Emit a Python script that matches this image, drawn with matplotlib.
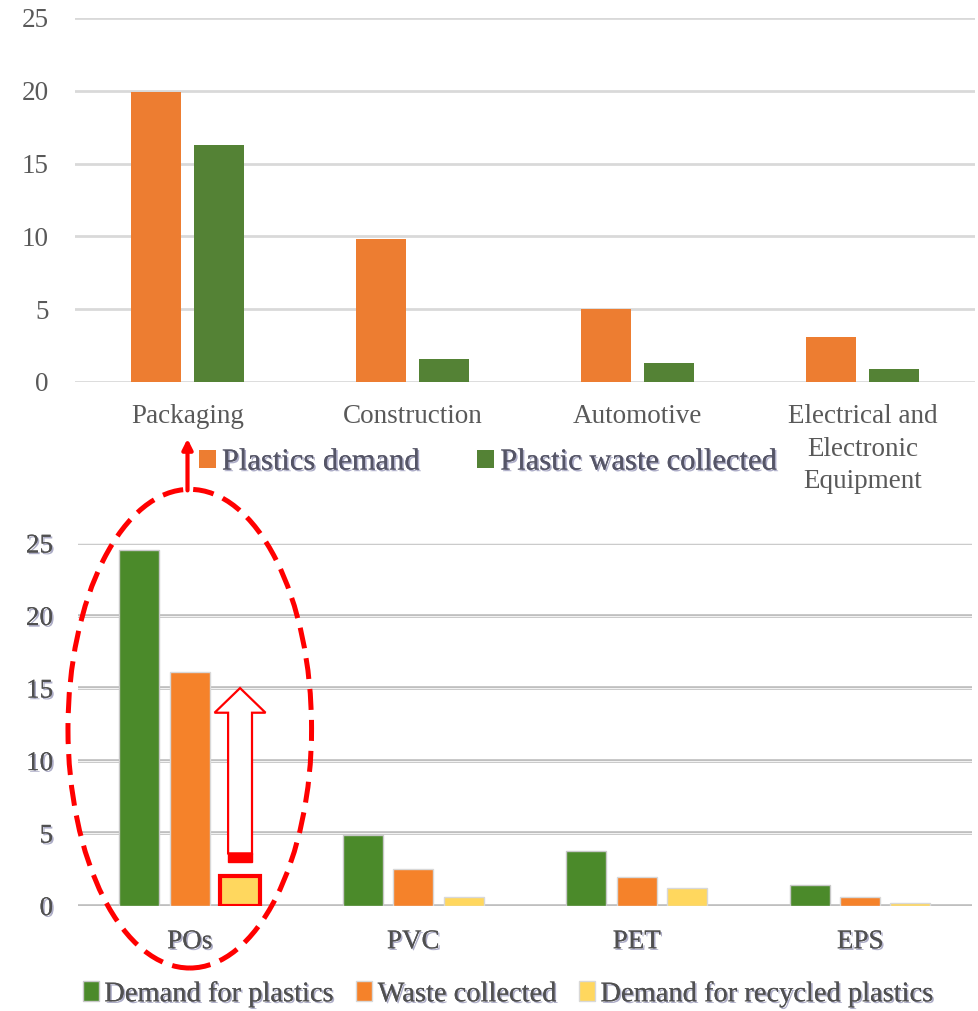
import numpy as np
import matplotlib
matplotlib.use("Agg")
import matplotlib.pyplot as plt
import matplotlib.patches as mpatches
import matplotlib.patheffects as pe

# top chart: demand vs waste collected by sector
sectors = ["Packaging", "Construction", "Automotive", "Electrical and\nElectronic\nEquipment"]
plastics_demand = [19.9, 9.8, 5.0, 3.1]
waste_collected_sector = [16.3, 1.6, 1.3, 0.9]

# bottom chart: by polymer
polymers = ["POs", "PVC", "PET", "EPS"]
demand_for_plastics = [24.5, 4.9, 3.75, 1.4]
waste_collected = [16.1, 2.5, 1.95, 0.6]
demand_recycled = [2.05, 0.6, 1.2, 0.15]

y_ticks = [0, 5, 10, 15, 20, 25]

ORANGE = "#ED7D31"
GREEN = "#548235"
ORANGE2 = "#F5822A"
GREEN2 = "#4B8A2A"
YELLOW = "#FFD75E"
TXT = "#595959"
FONT = "Liberation Serif"

fig = plt.figure(figsize=(9.79, 10.11), dpi=100)

shadow = [pe.withSimplePatchShadow(offset=(1.2, -1.2), shadow_rgbFace="#8a8ab0", alpha=0.7), pe.Normal()]

# ---------- top chart ----------
ax1 = fig.add_axes([0.0766, 0.6222, 0.9194, 0.36])
x1 = np.arange(len(sectors))
w1 = 0.222
ax1.bar(x1 - 0.14, plastics_demand, w1, color=ORANGE, zorder=3, label="Plastics demand")
ax1.bar(x1 + 0.14, waste_collected_sector, w1, color=GREEN, zorder=3, label="Plastic waste collected")
ax1.set_xlim(-0.5, len(sectors) - 0.5)
ax1.set_ylim(0, 25)
ax1.set_yticks(y_ticks)
ax1.set_yticklabels([str(v) for v in y_ticks])
ax1.set_xticks(x1)
ax1.set_xticklabels(sectors, linespacing=1.4, va="top")
ax1.tick_params(axis="both", length=0, labelsize=19.5, labelcolor=TXT)
ax1.tick_params(axis="y", pad=19)
ax1.tick_params(axis="x", pad=16)
for t in ax1.get_xticklabels() + ax1.get_yticklabels():
    t.set_fontfamily(FONT)
ax1.yaxis.grid(True, color="#d9d9d9", lw=2, zorder=0)
for s in ax1.spines.values():
    s.set_visible(False)

leg1 = fig.legend(handles=ax1.get_legend_handles_labels()[0], loc="center",
                  bbox_to_anchor=(0.498, 0.543), ncol=2, frameon=False,
                  prop={"family": FONT, "size": 22}, handlelength=0.55, handleheight=0.55,
                  handletextpad=0.2, columnspacing=1.9)
for t in leg1.get_texts():
    t.set_color("#555566")
    t.set_fontfamily(FONT)
    t.set_path_effects(shadow)

# ---------- bottom chart ----------
ax2 = fig.add_axes([0.0797, 0.1042, 0.9131, 0.3587])
x2 = np.arange(len(polymers))
w2 = 0.179
off = 0.225
b_g = ax2.bar(x2 - off, demand_for_plastics, w2, color=GREEN2, edgecolor="#c8c8c8", lw=1, zorder=3,
              label="Demand for plastics")
b_o = ax2.bar(x2, waste_collected, w2, color=ORANGE2, edgecolor="#d8d8d8", lw=1, zorder=3,
              label="Waste collected")
b_y = ax2.bar(x2 + off, demand_recycled, w2, color=YELLOW, edgecolor="#d8d8d8", lw=1, zorder=3,
              label="Demand for recycled plastics")
ax2.set_xlim(-0.5, len(polymers) - 0.5)
ax2.set_ylim(0, 25)
ax2.set_yticks(y_ticks)
ax2.set_yticklabels([str(v) for v in y_ticks])
ax2.set_xticks(x2)
ax2.set_xticklabels(polymers)
ax2.tick_params(axis="both", length=0, labelsize=19.5, labelcolor="#505050")
ax2.tick_params(axis="y", pad=18)
ax2.tick_params(axis="x", pad=17)
for t in ax2.get_xticklabels() + ax2.get_yticklabels():
    t.set_fontfamily(FONT)
    t.set_path_effects(shadow)
for yv in y_ticks:
    ax2.axhline(yv, color="#bdbdbd", lw=2.6, zorder=1)
    ax2.axhline(yv, color="#f2f2f2", lw=0.8, zorder=1)
for s in ax2.spines.values():
    s.set_visible(False)

leg2 = fig.legend(handles=[b_g, b_o, b_y], loc="center", bbox_to_anchor=(0.519, 0.0165),
                  ncol=3, frameon=False, prop={"family": FONT, "size": 20.5},
                  handlelength=0.55, handleheight=0.7, handletextpad=0.2, columnspacing=0.8)
for t in leg2.get_texts():
    t.set_color("#505050")
    t.set_fontfamily(FONT)
    t.set_path_effects(shadow)

# ---------- red highlights ----------
hl = b_y[0]
hl.set_edgecolor("red")
hl.set_linewidth(3)
hx = hl.get_x() + hl.get_width() / 2

# hollow arrow from recycled demand up toward waste collected
arr = mpatches.FancyArrow(hx, 3.6, 0, 11.4, width=0.107, head_width=0.228, head_length=1.7,
                          length_includes_head=True, facecolor="white", edgecolor="red",
                          lw=1.6, zorder=5)
ax2.add_patch(arr)
ax2.add_patch(mpatches.Rectangle((hx - 0.0535, 3.0), 0.107, 0.6, facecolor="red",
                                 edgecolor="red", lw=1, zorder=5))

# dashed ellipse around POs
ell = mpatches.Ellipse((x2[0], 12.2), 1.09, 33.0, fill=False, edgecolor="red", lw=3.6,
                       linestyle=(0, (4.2, 2.0)), zorder=6, clip_on=False)
ax2.add_patch(ell)

# arrow from ellipse up to Packaging label
ax1.annotate("", xy=(x1[0], -3.9), xytext=(x1[0], -7.45), xycoords="data",
             arrowprops=dict(arrowstyle="-|>,head_length=0.6,head_width=0.3", color="red",
                             lw=3, shrinkA=0, shrinkB=0),
             annotation_clip=False)

fig.savefig("out.png", dpi=100)
